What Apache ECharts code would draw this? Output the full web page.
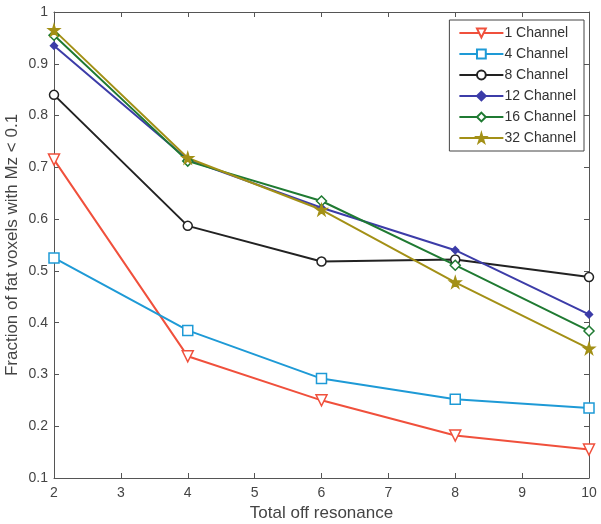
<!DOCTYPE html>
<html><head><meta charset="utf-8">
<script src="https://cdn.jsdelivr.net/npm/echarts@6/dist/echarts.min.js"></script>
<style>html,body{margin:0;padding:0;background:#fff}#c{width:601px;height:524px}</style>
</head><body><div id="c"></div>
<script>
const xValues = [2, 4, 6, 8, 10];
const seriesNames = ['1 Channel', '4 Channel', '8 Channel', '12 Channel', '16 Channel', '32 Channel'];
const ch1 = [0.715, 0.335, 0.250, 0.182, 0.155];
const ch4 = [0.525, 0.385, 0.292, 0.252, 0.235];
const ch8 = [0.840, 0.587, 0.518, 0.522, 0.488];
const ch12 = [0.935, 0.715, 0.622, 0.540, 0.416];
const ch16 = [0.955, 0.712, 0.635, 0.511, 0.384];
const ch32 = [0.965, 0.718, 0.618, 0.478, 0.350];
const yTicks = [0.1, 0.2, 0.3, 0.4, 0.5, 0.6, 0.7, 0.8, 0.9, 1];

const colors = ['#f0503c', '#1e9ad6', '#222222', '#3c3ca8', '#1f7a32', '#a39016'];
const star = 'path://M50,0 L61,35 L98,35 L68,57 L79,91 L50,70 L21,91 L32,57 L2,35 L39,35 Z';
const symbols = ['path://M0,0 L100,0 L50,90 Z', 'rect', 'circle', 'diamond', 'diamond', star];
const symSizes = [11, 10, 9, 7, 10, 11];
const filled = [false, false, false, true, false, true];
const allData = [ch1, ch4, ch8, ch12, ch16, ch32];
const font = 'Liberation Sans, Arial, sans-serif';
const txt = '#444';

const series = seriesNames.map((n, i) => ({
  name: n, type: 'line',
  data: xValues.map((x, j) => [x, allData[i][j]]),
  symbol: symbols[i], symbolSize: symSizes[i],
  lineStyle: {color: colors[i], width: 2},
  itemStyle: {color: filled[i] ? colors[i] : '#fff', borderColor: colors[i], borderWidth: 1.5},
  showAllSymbol: true, animation: false
}));

const chart = echarts.init(document.getElementById('c'));
chart.setOption({
  animation: false,
  grid: {left: 54, right: 12, top: 12, bottom: 46, containLabel: false, outerBoundsMode: 'none'},
  legend: {
    data: seriesNames, orient: 'vertical', right: 17, top: 20,
    itemWidth: 44, itemHeight: 11, itemGap: 7,
    backgroundColor: '#fff', borderColor: '#444', borderWidth: 1,
    padding: [6, 8, 6, 9],
    textStyle: {fontFamily: font, fontSize: 14, color: '#333', padding: [0,0,0,-4]}
  },
  xAxis: [{
    type: 'value', min: 2, max: 10, interval: 1,
    name: 'Total off resonance', nameLocation: 'middle', nameGap: 27, nameMoveOverlap: false,
    nameTextStyle: {fontFamily: font, fontSize: 17, color: txt},
    axisLine: {lineStyle: {color: '#555', width: 1}},
    axisTick: {inside: true, length: 5, lineStyle: {color: '#555'}},
    axisLabel: {fontFamily: font, fontSize: 14, color: txt, margin: 8},
    splitLine: {show: false}
  }, {
    type: 'value', position: 'top', min: 2, max: 10, interval: 1,
    axisLine: {show: true, lineStyle: {color: '#555', width: 1}},
    axisTick: {inside: true, length: 5, lineStyle: {color: '#555'}},
    axisLabel: {show: false}, splitLine: {show: false}
  }],
  yAxis: [{
    type: 'value', min: 0.1, max: 1, interval: 0.1,
    name: 'Fraction of fat voxels with Mz < 0.1', nameLocation: 'middle', nameGap: 33, nameMoveOverlap: false,
    nameTextStyle: {fontFamily: font, fontSize: 17, color: txt},
    axisLine: {show: true, lineStyle: {color: '#555', width: 1}},
    axisTick: {inside: true, length: 5, lineStyle: {color: '#555'}},
    axisLabel: {fontFamily: font, fontSize: 14, color: txt, margin: 6,
      formatter: v => { const t = yTicks.find(k => Math.abs(k - v) < 1e-6); return t === undefined ? '' : String(t); }},
    splitLine: {show: false}
  }, {
    type: 'value', position: 'right', min: 0.1, max: 1, interval: 0.1,
    axisLine: {show: true, lineStyle: {color: '#555', width: 1}},
    axisTick: {inside: true, length: 5, lineStyle: {color: '#555'}},
    axisLabel: {show: false}, splitLine: {show: false}
  }],
  series: series
});
</script></body></html>
